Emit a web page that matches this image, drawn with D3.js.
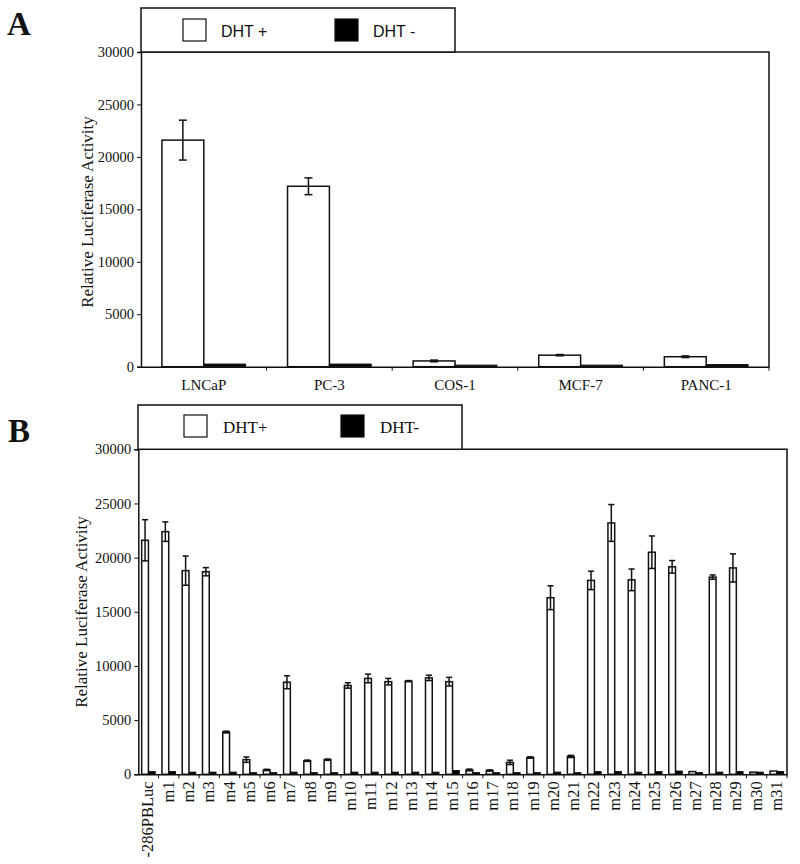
<!DOCTYPE html>
<html><head><meta charset="utf-8">
<script src="https://cdn.jsdelivr.net/npm/d3@7"></script>
<style>body{margin:0;background:#fff}svg{display:block}</style>
</head><body>
<svg id="c" width="800" height="864"></svg>
<script>
// ---------- Panel A data ----------
const catsA = ["LNCaP", "PC-3", "COS-1", "MCF-7", "PANC-1"];
const dhtPlusA = [21600, 17200, 550, 1100, 950];
const dhtPlusErrA = [1900, 800, 80, 60, 80];
const dhtMinusA = [250, 250, 150, 150, 200];
const legendA = ["DHT +", "DHT -"];

// ---------- Panel B data ----------
const catsB = ["-286PBLuc", "m1", "m2", "m3", "m4", "m5", "m6", "m7", "m8", "m9", "m10",
  "m11", "m12", "m13", "m14", "m15", "m16", "m17", "m18", "m19", "m20",
  "m21", "m22", "m23", "m24", "m25", "m26", "m27", "m28", "m29", "m30", "m31"];
const dhtPlusB = [21600, 22400, 18800, 18700, 3900, 1350, 400, 8500, 1250, 1350, 8200,
  8850, 8550, 8600, 8900, 8550, 400, 350, 1100, 1550, 16300,
  1650, 17900, 23200, 17950, 20500, 19150, 250, 18200, 19050, 200, 300];
const dhtPlusErrB = [1900, 900, 1350, 380, 80, 250, 60, 600, 60, 60, 250,
  400, 300, 50, 250, 400, 80, 60, 200, 60, 1100,
  100, 850, 1700, 1000, 1500, 580, 0, 200, 1300, 0, 0];
const dhtMinusB = [250, 250, 200, 200, 200, 150, 150, 200, 150, 150, 200,
  200, 200, 200, 200, 350, 150, 150, 150, 150, 200,
  150, 250, 250, 200, 250, 300, 150, 200, 250, 200, 250];
const legendB = ["DHT+", "DHT-"];

const yTicks = [0, 5000, 10000, 15000, 20000, 25000, 30000];
const yTitle = "Relative Luciferase Activity";

const svg = d3.select("#c");
const INK = "#111";
const SERIF = "'Liberation Serif','Times New Roman',serif";
const SANS = "'Liberation Sans',Arial,sans-serif";

function panel(cfg) {
  const {cats, plus, err, minus, legend, x0, x1, y0, y1, letter, letterPos,
         leg, legFont, legFontSize, titlePos, rotated} = cfg;
  const g = svg.append("g");
  const x = d3.scaleBand().domain(cats).range([x0, x1]).paddingInner(0).paddingOuter(0);
  const bw = x.bandwidth();
  const sub = d3.scaleBand().domain(["plus", "minus"]).range([bw / 6, bw * 5 / 6]).padding(0);
  const y = d3.scaleLinear().domain([0, 30000]).range([y0, y1]);

  // frame (top + right)
  g.append("path").attr("d", `M${x0},${y1}H${x1}V${y0}`)
    .attr("fill", "none").attr("stroke", INK).attr("stroke-width", 1.5);

  // bars
  const data = cats.map((c, i) => ({c, p: plus[i], e: err[i], m: minus[i]}));
  g.selectAll("rect.p").data(data).join("rect").attr("class", "p")
    .attr("x", d => x(d.c) + sub("plus")).attr("width", sub.bandwidth())
    .attr("y", d => y(d.p)).attr("height", d => y(0) - y(d.p))
    .attr("fill", "#fff").attr("stroke", INK).attr("stroke-width", 1.5);
  g.selectAll("rect.m").data(data).join("rect").attr("class", "m")
    .attr("x", d => x(d.c) + sub("minus")).attr("width", sub.bandwidth())
    .attr("y", d => y(d.m)).attr("height", d => y(0) - y(d.m))
    .attr("fill", "#000").attr("stroke", INK).attr("stroke-width", 1);

  // error bars
  const cap = Math.min(sub.bandwidth() * 0.9, 8) / 2;
  const eb = g.selectAll("g.eb").data(data.filter(d => d.e > 0)).join("g").attr("class", "eb")
    .attr("stroke", INK).attr("stroke-width", 1.5);
  const cx = d => x(d.c) + sub("plus") + sub.bandwidth() / 2;
  eb.append("line").attr("x1", cx).attr("x2", cx)
    .attr("y1", d => y(d.p + d.e)).attr("y2", d => y(d.p - d.e));
  eb.append("line").attr("x1", d => cx(d) - cap).attr("x2", d => cx(d) + cap)
    .attr("y1", d => y(d.p + d.e)).attr("y2", d => y(d.p + d.e));
  eb.append("line").attr("x1", d => cx(d) - cap).attr("x2", d => cx(d) + cap)
    .attr("y1", d => y(d.p - d.e)).attr("y2", d => y(d.p - d.e));

  // y axis
  const ya = g.append("g").attr("transform", `translate(${x0},0)`)
    .call(d3.axisLeft(y).tickValues(yTicks).tickSize(4).tickPadding(3).tickFormat(d3.format("d")));
  ya.select(".domain").attr("stroke", INK).attr("stroke-width", 1.5);
  ya.selectAll(".tick line").attr("stroke", INK).attr("stroke-width", 1);
  ya.selectAll("text").attr("font-family", SERIF).attr("font-size", 14.5).attr("fill", INK);

  // x axis line & boundary ticks
  const xa = g.append("g").attr("transform", `translate(0,${y0})`)
    .call(d3.axisBottom(x).tickSize(0).tickFormat(""));
  xa.select(".domain").attr("stroke", INK).attr("stroke-width", 1.5);
  const bounds = cats.map(c => x(c)).concat([x1]).slice(1);
  g.selectAll("line.bt").data(bounds).join("line").attr("class", "bt")
    .attr("x1", d => d).attr("x2", d => d).attr("y1", y0).attr("y2", y0 + 4)
    .attr("stroke", INK).attr("stroke-width", 1);

  // x labels
  if (!rotated) {
    g.selectAll("text.xl").data(cats).join("text").attr("class", "xl")
      .attr("transform", c => `translate(${x(c) + bw / 2},${y0 + 23})`)
      .attr("text-anchor", "middle").attr("font-family", SERIF).attr("font-size", 15)
      .attr("fill", INK).text(c => c);
  } else {
    g.selectAll("text.xl").data(cats).join("text").attr("class", "xl")
      .attr("transform", c => `translate(${x(c) + bw / 2 + 5},${y0 + 7}) rotate(-90)`)
      .attr("text-anchor", "end").attr("font-family", SERIF).attr("font-size", 16.5)
      .attr("fill", INK).text(c => c);
  }

  // y title
  g.append("text").attr("transform", `translate(${titlePos[0]},${titlePos[1]}) rotate(-90)`)
    .attr("text-anchor", "middle").attr("dominant-baseline", "central")
    .attr("font-family", SERIF).attr("font-size", 17).attr("fill", INK).text(yTitle);

  // legend
  g.append("rect").attr("x", leg.x).attr("y", leg.y).attr("width", leg.w).attr("height", leg.h)
    .attr("fill", "#fff").attr("stroke", INK).attr("stroke-width", 1.5);
  const fills = ["#fff", "#000"];
  legend.forEach((t, i) => {
    g.append("rect").attr("x", leg.sx[i]).attr("y", leg.y + leg.sy).attr("width", 23).attr("height", 22)
      .attr("fill", fills[i]).attr("stroke", INK).attr("stroke-width", 1.2);
    g.append("text").attr("x", leg.tx[i]).attr("y", leg.y + leg.ty)
      .attr("font-family", legFont).attr("font-size", legFontSize).attr("fill", INK).text(t);
  });

  // panel letter
  g.append("text").attr("x", letterPos[0]).attr("y", letterPos[1])
    .attr("font-family", SERIF).attr("font-weight", "bold").attr("font-size", 33)
    .attr("fill", INK).text(letter);
}

panel({cats: catsA, plus: dhtPlusA, err: dhtPlusErrA, minus: dhtMinusA, legend: legendA,
  x0: 141, x1: 769, y0: 366.7, y1: 52, letter: "A", letterPos: [7, 35],
  leg: {x: 141, y: 8, w: 314, h: 44, sx: [183, 335], sy: 11, tx: [221, 373], ty: 29},
  legFont: SANS, legFontSize: 16, titlePos: [87, 212], rotated: false});

panel({cats: catsB, plus: dhtPlusB, err: dhtPlusErrB, minus: dhtMinusB, legend: legendB,
  x0: 138.3, x1: 787, y0: 774.3, y1: 449.3, letter: "B", letterPos: [8, 442],
  leg: {x: 138, y: 405, w: 324, h: 44.3, sx: [184, 341], sy: 10, tx: [223, 380], ty: 28},
  legFont: SERIF, legFontSize: 17, titlePos: [81, 612], rotated: true});
</script>
</body></html>
